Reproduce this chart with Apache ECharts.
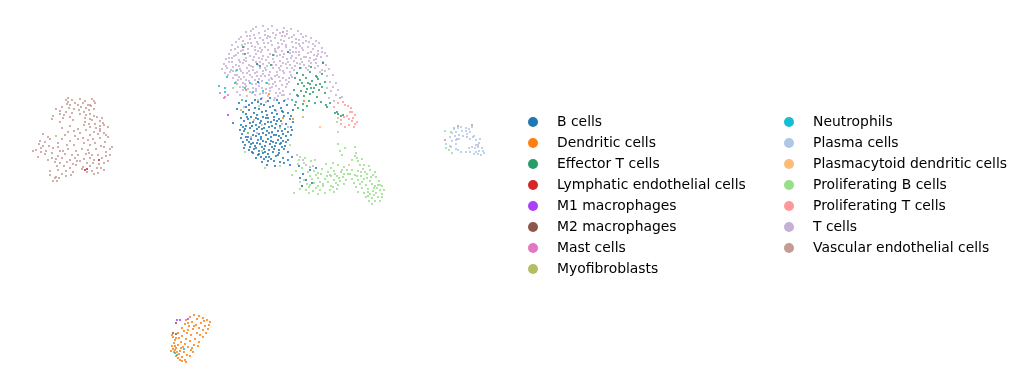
<!DOCTYPE html>
<html><head><meta charset="utf-8">
<style>html,body{margin:0;padding:0;background:#fff}#c{width:1022px;height:389px}</style>
<script src="https://cdn.jsdelivr.net/npm/echarts@6/dist/echarts.min.js"></script>
</head><body><div id="c"></div>
<script>
const bCells=[[270,98],[277,100],[258,102],[264,105],[268,101],[252,103],[246,107],[255,108],[261,104],[273,106],[279,103],[284,101],[239,103],[243,112],[249,110],[254,113],[259,109],[266,111],[270,107],[275,110],[281,108],[287,105],[233,123],[241,118],[246,114],[251,117],[257,115],[262,112],[267,115],[272,113],[277,114],[282,111],[288,113],[293,110],[244,121],[248,119],[253,122],[258,119],[263,117],[268,118],[274,117],[279,119],[284,116],[290,119],[241,125],[246,126],[250,123],[256,125],[261,121],[265,124],[271,122],[276,124],[281,121],[286,124],[293,122],[240,130],[245,129],[250,128],[254,131],[259,127],[264,128],[269,127],[275,128],[280,126],[285,129],[291,127],[242,134],[248,133],[253,135],[257,129],[263,133],[267,131],[272,132],[278,131],[283,134],[288,132],[241,138],[246,137],[251,139],[256,136],[261,137],[266,135],[271,137],[276,135],[281,138],[286,136],[291,135],[243,142],[249,142],[253,143],[258,140],[263,141],[268,139],[273,142],[278,140],[283,141],[288,140],[245,145],[250,147],[255,146],[260,144],[265,146],[270,144],[275,146],[280,144],[285,146],[249,150],[254,149],[259,151],[264,149],[269,150],[274,149],[279,150],[284,149],[253,153],[258,155],[263,153],[268,154],[273,152],[278,155],[288,152],[256,158],[261,157],[266,157],[271,159],[276,156],[283,158],[292,157],[262,162],[268,161],[274,161],[280,162],[288,160],[267,165],[275,166],[284,163],[290,165],[246,101],[261,99],[249,105],[256,118],[268,122],[277,121],[243,127],[252,126],[262,129],[272,126],[282,131],[248,137],[259,134],[269,133],[279,136],[251,144],[261,139],[271,141],[281,143],[256,148],[266,142],[276,143],[252,152],[262,147],[272,147],[282,147],[259,154],[269,157],[279,153],[247,140],[244,148],[264,159],[299,166],[303,174],[310,170],[316,168],[306,180],[300,178],[302,186],[312,183],[298,96],[288,52],[257,64],[258,82],[323,63],[237,109],[255,100],[283,112],[292,130],[291,116],[247,117],[260,123],[274,120],[266,118],[244,131],[257,143],[274,135],[265,152],[286,142]];
const dendriticCells=[[194,315],[199,316],[190,317],[203,318],[186,320],[197,319],[207,320],[192,322],[201,323],[210,322],[185,324],[196,325],[205,326],[182,328],[189,326],[199,328],[209,325],[184,331],[193,329],[203,330],[178,333],[187,333],[197,333],[172,335],[182,336],[191,335],[176,338],[186,339],[195,339],[203,337],[175,340],[181,342],[190,341],[199,342],[174,343],[185,344],[194,345],[172,346],[178,345],[188,347],[198,346],[173,349],[181,348],[191,350],[175,350],[184,352],[193,352],[174,352],[179,354],[187,355],[176,356],[182,357],[190,356],[178,358],[185,360],[182,361],[186,362],[180,360],[177,352],[171,351],[175,346],[183,347],[194,326],[188,330],[200,335],[179,338],[173,337],[192,348],[206,333],[208,329],[204,321],[188,323],[180,351],[176,348],[269,94],[283,118],[293,119],[304,101],[246,90]];
const effectorTCells=[[297,73],[303,75],[310,72],[316,76],[322,74],[295,78],[300,80],[306,78],[312,81],[318,79],[325,82],[298,84],[304,86],[310,84],[316,85],[322,87],[294,90],[301,91],[307,89],[313,92],[319,90],[325,93],[297,95],[304,96],[310,94],[317,97],[296,102],[303,104],[309,101],[315,103],[298,108],[303,110],[307,106],[321,102],[326,105],[330,103],[335,113],[338,114],[341,116],[343,115],[337,112],[327,107],[295,105],[243,47],[245,54],[273,55],[271,65],[260,66],[300,68],[311,67],[317,77],[302,83],[311,88],[308,83],[314,88],[306,92],[320,84]];
const lymphaticCells=[[87,169],[85,170],[99,160]];
const m1Macrophages=[[177,320],[180,320],[188,319],[228,115]];
const m2Macrophages=[[173,333],[176,334],[176,323]];
const mastCells=[[220,93],[224,98],[228,95],[225,97],[283,32]];
const myofibroblasts=[[56,136],[237,84],[248,133],[303,117],[241,110]];
const neutrophils=[[219,86],[225,88],[227,77],[235,83],[237,70],[250,83],[245,88],[253,92],[263,91],[267,83],[242,100],[292,100],[225,92],[175,353],[177,355],[184,349]];
const plasmaCells=[[445,131],[454,129],[458,128],[461,127],[466,128],[469,129],[472,127],[452,133],[456,132],[462,131],[466,131],[470,132],[450,137],[455,136],[459,135],[463,136],[467,134],[473,137],[452,141],[456,140],[459,139],[470,139],[474,136],[476,140],[446,144],[450,146],[456,144],[476,145],[479,143],[472,147],[475,148],[478,147],[482,148],[458,150],[461,152],[466,152],[470,152],[452,153],[476,152],[479,151],[483,151],[478,154],[474,154],[481,155],[484,153],[456,149],[480,139],[469,148]];
const plasmacytoidCells=[[349,165],[320,127]];
const proliferatingBCells=[[300,157],[305,158],[299,160],[311,161],[298,164],[304,163],[310,167],[315,160],[296,171],[302,168],[308,172],[318,173],[326,164],[333,163],[322,169],[331,168],[338,165],[344,167],[310,176],[316,175],[321,174],[328,172],[334,171],[341,172],[347,170],[304,180],[312,179],[318,178],[325,179],[331,176],[337,176],[343,177],[348,174],[300,182],[307,184],[314,183],[320,182],[328,182],[334,180],[340,181],[346,180],[302,186],[309,187],[316,188],[323,186],[331,186],[338,185],[344,184],[306,190],[313,191],[320,190],[330,190],[337,189],[309,193],[318,194],[325,193],[334,192],[355,147],[356,153],[355,156],[357,158],[352,160],[358,161],[362,159],[360,165],[364,165],[369,166],[352,170],[358,171],[363,169],[370,170],[375,172],[350,174],[355,175],[361,176],[367,174],[373,175],[352,179],[358,180],[364,179],[370,181],[376,177],[379,181],[354,183],[360,184],[366,185],[372,184],[378,185],[382,186],[362,188],[368,189],[374,188],[380,190],[384,190],[358,192],[364,193],[370,194],[376,193],[382,194],[366,197],[372,198],[378,197],[382,197],[369,201],[375,201],[380,201],[372,204],[368,192],[375,186],[356,187],[345,148],[340,151],[338,144],[338,132],[337,122],[342,155],[330,175],[323,184],[310,185],[300,189],[314,171],[361,172],[367,178],[373,191],[292,175],[294,193],[265,168],[245,152],[280,166],[262,151],[252,126],[280,128],[290,145],[259,106],[451,132],[446,148],[451,147],[449,150],[335,174],[339,178],[342,170],[336,183],[327,176],[333,187],[318,186],[344,174],[365,172],[371,177],[377,188],[362,182],[368,196],[374,195],[380,185],[357,176]];
const proliferatingTCells=[[338,103],[343,102],[345,105],[348,106],[351,108],[350,112],[355,115],[353,118],[347,116],[344,117],[341,120],[338,118],[352,121],[355,124],[349,125],[357,122],[341,124],[345,127],[354,127],[349,119],[334,107],[352,112]];
const tCells=[[263,26],[268,29],[256,27],[272,26],[277,30],[284,28],[291,29],[298,31],[251,31],[246,32],[259,33],[265,31],[273,33],[280,33],[287,31],[294,35],[301,34],[306,36],[241,37],[247,36],[254,35],[260,38],[268,36],[275,38],[282,36],[289,38],[296,39],[303,37],[311,38],[316,41],[236,42],[232,45],[243,41],[250,39],[257,42],[263,40],[271,41],[278,43],[284,41],[292,42],[299,44],[306,41],[313,44],[319,43],[238,47],[245,44],[252,46],[258,44],[265,47],[272,45],[279,47],[286,45],[293,47],[300,46],[308,47],[315,46],[322,48],[231,50],[235,49],[241,51],[248,49],[255,50],[261,52],[268,50],[275,49],[282,51],[290,50],[296,52],[303,50],[311,52],[318,51],[325,53],[229,54],[236,55],[243,54],[250,56],[256,54],[263,56],[270,54],[277,56],[284,54],[292,56],[299,55],[306,57],[314,55],[321,57],[327,56],[226,59],[232,58],[239,60],[246,58],[253,60],[259,58],[266,60],[273,59],[280,61],[287,59],[294,61],[301,59],[309,61],[316,59],[323,62],[224,64],[229,62],[236,65],[243,63],[249,65],[256,62],[263,64],[269,63],[276,65],[283,63],[290,65],[297,63],[304,65],[311,63],[318,66],[326,65],[222,69],[227,68],[233,67],[240,69],[247,68],[253,70],[260,68],[266,70],[273,68],[280,70],[287,68],[294,70],[301,68],[308,70],[315,68],[322,70],[329,69],[225,73],[230,72],[237,75],[243,73],[250,75],[257,72],[263,74],[270,72],[277,75],[284,73],[291,75],[233,78],[239,77],[246,80],[252,77],[259,79],[265,76],[272,79],[279,77],[286,80],[292,77],[327,76],[333,75],[236,82],[243,83],[249,81],[256,84],[262,81],[269,84],[275,82],[282,85],[289,82],[330,82],[336,83],[240,87],[246,86],[253,88],[259,86],[266,89],[272,87],[279,89],[286,87],[327,88],[333,87],[237,92],[243,90],[250,92],[256,91],[263,93],[270,91],[276,93],[283,91],[336,95],[331,91],[247,96],[255,95],[262,98],[268,96],[275,98],[282,95],[290,94],[329,98],[334,101],[253,29],[287,34],[239,39],[267,38],[303,43],[244,47],[260,48],[278,48],[296,48],[313,49],[234,56],[248,53],[262,59],[276,52],[290,53],[304,57],[318,54],[232,62],[246,61],[260,62],[274,62],[288,62],[302,62],[316,63],[239,66],[253,67],[267,66],[281,66],[295,66],[309,66],[226,66],[241,71],[255,73],[269,75],[283,71],[297,73],[235,75],[249,71],[263,71],[277,72],[290,72],[241,79],[255,80],[269,80],[283,78],[245,84],[259,83],[273,84],[287,84],[248,89],[262,88],[276,86],[252,93],[266,93],[280,93],[258,100],[274,100],[288,99],[264,43],[282,44],[299,40],[251,43],[270,37],[285,36],[275,51],[258,51],[243,50],[293,52],[308,53],[322,52],[231,70],[236,71],[320,72],[325,71],[338,90],[342,97],[240,95],[285,100],[266,102],[254,120],[276,111],[244,107],[262,125],[257,133],[282,124],[272,133],[288,127],[251,137],[303,160],[297,155],[313,166],[306,165],[233,88],[255,38],[276,35],[292,37],[309,42],[248,43],[268,43],[286,47],[302,48],[238,53],[255,47],[274,55],[291,58],[310,58],[229,58],[244,60],[258,65],[272,65],[286,64],[300,64],[314,60],[233,71],[247,73],[261,76],[275,76],[289,78],[238,80],[252,84],[266,83],[280,81],[243,87],[256,89],[270,88],[284,95],[260,94],[278,96],[265,35],[250,36],[281,40],[296,43],[242,45],[262,50],[280,55],[299,52],[317,56],[254,57],[268,57],[283,57],[296,58],[240,62],[251,66],[265,68],[279,68],[292,68],[306,68],[228,75],[244,77],[257,76],[271,78],[454,128],[457,139],[467,137],[478,145]];
const vascularCells=[[66,100],[68,102],[72,100],[80,99],[85,101],[92,99],[94,101],[67,104],[70,105],[75,103],[78,105],[83,103],[88,105],[95,103],[62,107],[69,108],[74,109],[81,107],[86,108],[91,106],[56,109],[60,111],[66,112],[72,113],[79,110],[84,112],[89,110],[94,109],[53,116],[60,114],[64,115],[70,117],[86,115],[90,114],[94,116],[52,119],[63,118],[85,118],[90,119],[97,117],[102,118],[60,122],[73,120],[85,122],[92,120],[100,121],[103,123],[84,125],[89,124],[95,124],[100,126],[104,125],[62,128],[70,126],[78,129],[90,127],[96,128],[108,127],[68,132],[74,131],[80,133],[86,130],[94,132],[100,131],[104,133],[43,134],[48,137],[65,135],[75,136],[90,135],[98,134],[106,135],[108,137],[40,141],[45,142],[50,139],[62,139],[70,141],[78,139],[88,140],[93,139],[100,138],[105,142],[39,144],[43,146],[49,146],[58,143],[67,145],[74,145],[84,143],[90,145],[95,143],[101,146],[33,151],[41,148],[46,151],[53,148],[60,151],[68,149],[76,151],[82,149],[88,150],[96,149],[104,147],[112,147],[36,150],[45,154],[52,153],[58,156],[65,154],[72,155],[78,155],[86,154],[92,155],[98,155],[106,152],[110,149],[38,157],[52,158],[56,159],[62,158],[70,160],[75,158],[84,159],[90,158],[94,160],[102,158],[106,156],[48,160],[55,162],[60,163],[67,162],[73,164],[80,161],[87,163],[93,163],[99,164],[104,163],[57,166],[64,166],[70,168],[76,165],[83,167],[90,166],[97,168],[101,168],[50,171],[58,170],[66,171],[73,172],[82,169],[92,171],[98,173],[104,170],[108,161],[50,175],[56,177],[62,174],[71,175],[94,174],[55,178],[57,181],[59,178],[53,181],[66,176],[87,172],[110,155],[68,98],[90,105],[80,114],[100,129],[58,147],[83,138],[41,152],[77,161],[63,151],[89,153],[445,140],[458,126],[472,125],[340,98]];

const categories=['B cells','Dendritic cells','Effector T cells','Lymphatic endothelial cells','M1 macrophages','M2 macrophages','Mast cells','Myofibroblasts','Neutrophils','Plasma cells','Plasmacytoid dendritic cells','Proliferating B cells','Proliferating T cells','T cells','Vascular endothelial cells'];
const palette=['#1f77b4','#ff7f0e','#279e68','#d62728','#aa40fc','#8c564b','#e377c2','#b5bd61','#17becf','#aec7e8','#ffbb78','#98df8a','#ff9896','#c5b0d5','#c49c94'];
const seriesValues=[bCells,dendriticCells,effectorTCells,lymphaticCells,m1Macrophages,m2Macrophages,mastCells,myofibroblasts,neutrophils,plasmaCells,plasmacytoidCells,proliferatingBCells,proliferatingTCells,tCells,vascularCells];
const drawOrder=[13,11,14,0,1,9,2,12,8,6,7,3,4,10,5];

const legendBase={orient:'vertical',icon:'circle',itemWidth:10,itemHeight:10,itemGap:7,top:110,
  textStyle:{fontFamily:'DejaVu Sans',fontSize:13.9,color:'#000',padding:[0,0,0,14],lineHeight:14}};
const chart=echarts.init(document.getElementById('c'),null,{renderer:'canvas'});
chart.setOption({
  animation:false,
  backgroundColor:'#fff',
  color:palette,
  grid:{left:0,right:0,top:0,bottom:0},
  xAxis:{type:'value',min:0,max:1022,show:false},
  yAxis:{type:'value',min:0,max:389,inverse:true,show:false},
  legend:[
    Object.assign({},legendBase,{left:523,data:categories.slice(0,8)}),
    Object.assign({},legendBase,{left:779,data:categories.slice(8)})
  ],
  series:categories.map((name,i)=>({
    name,type:'scatter',data:seriesValues[i],symbol:'circle',symbolSize:2.1,
    z:2+drawOrder.indexOf(i),silent:true,
    itemStyle:{color:palette[i],opacity:1}
  }))
});
</script></body></html>
